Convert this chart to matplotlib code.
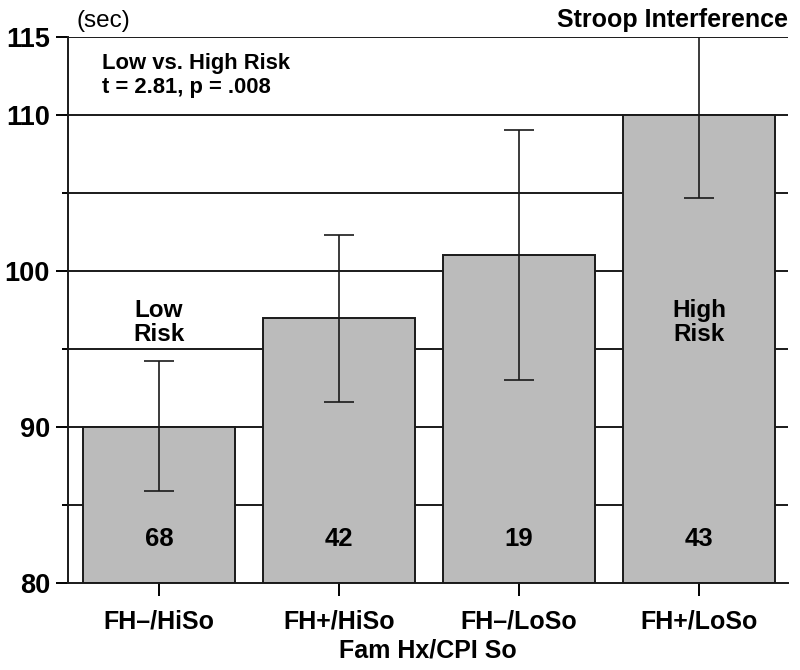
import matplotlib
matplotlib.use("Agg")
import matplotlib.pyplot as plt
import numpy as np

groups = ["FH\u2013/HiSo", "FH+/HiSo", "FH\u2013/LoSo", "FH+/LoSo"]
means = [90.0, 97.0, 101.0, 110.0]
err_low = [85.9, 91.6, 93.0, 104.7]
err_high = [94.2, 102.3, 109.0, 115.3]
counts = ["68", "42", "19", "43"]
major_ticks = [80, 90, 100, 110, 115]
minor_ticks = [85, 95, 105]

plt.rcParams["font.family"] = ["Liberation Sans", "DejaVu Sans"]

fig = plt.figure(figsize=(8, 6.7), dpi=100)
ax = fig.add_axes([0.085, 0.13, 0.9, 0.815])

x = np.arange(len(groups))
ax.bar(x, [m - 80 for m in means], bottom=80, width=0.844, color="#bbbbbb",
       edgecolor="#1a1a1a", linewidth=1.4, zorder=2)

lo = [m - l for m, l in zip(means, err_low)]
hi = [h - m for m, h in zip(means, err_high)]
ax.errorbar(x, means, yerr=[lo, hi], fmt="none", ecolor="#1a1a1a",
            elinewidth=1.2, capsize=11, capthick=1.2, zorder=3)

for y in major_ticks[1:] + minor_ticks:
    ax.axhline(y, color="#1a1a1a", linewidth=1.4, zorder=1)

ax.set_xlim(-0.506, 3.494)
ax.set_ylim(80, 115)
ax.set_yticks(major_ticks)
ax.set_yticks(minor_ticks, minor=True)
ax.set_yticklabels([str(t) for t in major_ticks], fontsize=19.5, fontweight="bold")
ax.set_xticks(x)
ax.set_xticklabels(groups, fontsize=18, fontweight="bold")
ax.tick_params(axis="y", which="major", length=9, width=1.4, pad=4)
ax.tick_params(axis="y", which="minor", length=4.5, width=1.4)
ax.tick_params(axis="x", length=9, width=1.4, pad=10)
ax.set_xlabel("Fam Hx/CPI So", fontsize=18, fontweight="bold", labelpad=4)

for s in ["top", "right"]:
    ax.spines[s].set_visible(False)
for s in ["left", "bottom"]:
    ax.spines[s].set_linewidth(1.4)
    ax.spines[s].set_color("#1a1a1a")

for xi, c in zip(x, counts):
    ax.text(xi, 82.8, c, ha="center", va="center", fontsize=18.5, fontweight="bold")

ax.text(0, 96.7, "Low\nRisk", ha="center", va="center", fontsize=17.5,
        fontweight="bold", linespacing=1.05)
ax.text(3, 96.7, "High\nRisk", ha="center", va="center", fontsize=17.5,
        fontweight="bold", linespacing=1.05)

ax.text(0.047, 0.97, "Low vs. High Risk\nt = 2.81, p = .008", transform=ax.transAxes,
        ha="left", va="top", fontsize=15.8, fontweight="bold", linespacing=1.15)
ax.text(0.012, 1.008, "(sec)", transform=ax.transAxes, ha="left", va="bottom", fontsize=17.5)
ax.text(1.0, 1.008, "Stroop Interference", transform=ax.transAxes, ha="right",
        va="bottom", fontsize=18, fontweight="bold")

fig.savefig("out.png", dpi=100)
